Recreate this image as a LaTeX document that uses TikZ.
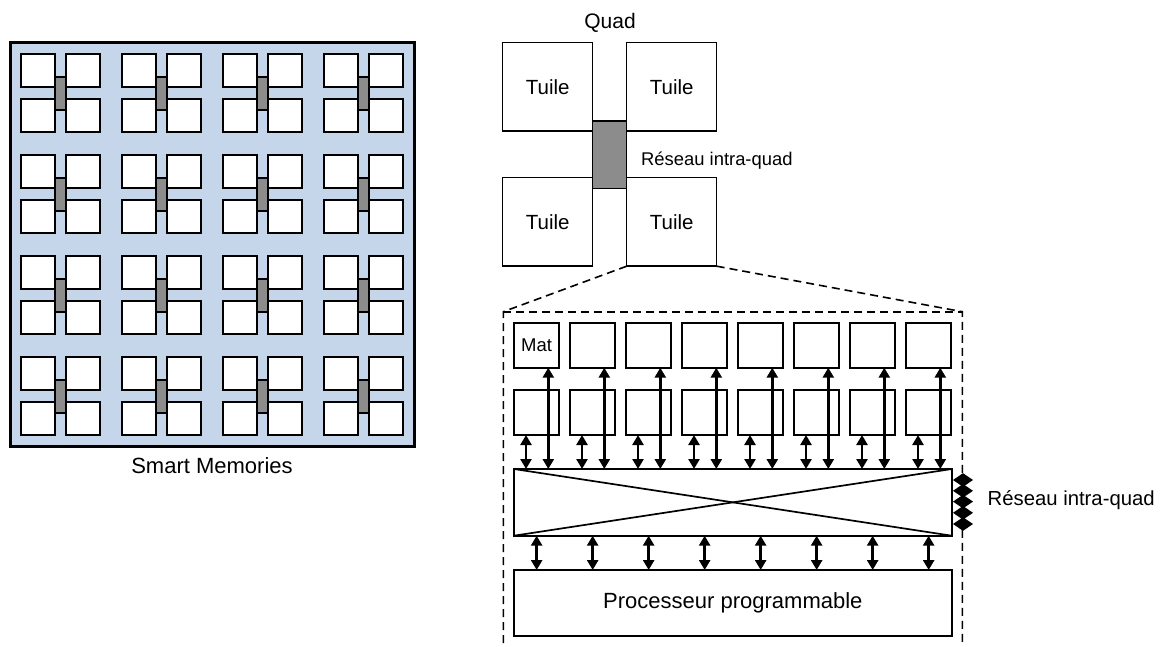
\documentclass[tikz,border=0pt]{standalone}
\usepackage{fontspec}
\setmainfont{Liberation Sans}
\usetikzlibrary{arrows.meta,calc}
\definecolor{panelblue}{RGB}{197,214,234}
\definecolor{bargray}{RGB}{140,140,140}
\begin{document}
\begin{tikzpicture}[x=1pt,y=-1pt,
  boxshape/.style={draw,line width=2pt,fill=white,inner sep=0pt,outer sep=0pt,anchor=north west},
  stile/.style={boxshape,minimum width=34pt,minimum height=33pt},
  sbar/.style={draw,line width=2pt,fill=bargray,inner sep=0pt,outer sep=0pt,anchor=north west,minimum width=11pt,minimum height=33.3pt},
  qtile/.style={boxshape,line width=1.5pt,minimum width=90pt,minimum height=88.5pt,font=\fontsize{20.5}{24}\selectfont},
  matbox/.style={boxshape,minimum width=45.3pt,minimum height=45pt},
  bigbox/.style={boxshape,minimum width=437.7pt},
  dashline/.style={line width=1.6pt,dash pattern=on 8pt off 5pt},
  dblarrow/.style={line width=2.5pt,{Triangle[length=10pt,width=11pt]}-{Triangle[length=10pt,width=11pt]}},
  lbl/.style={inner sep=0pt}
]
\useasboundingbox (0,0) rectangle (1162,646);

% ---------- Smart Memories chip ----------
\node[draw,line width=3pt,fill=panelblue,inner sep=0pt,outer sep=0pt,anchor=north west,
      minimum width=404pt,minimum height=404pt] (chip) at (10,42) {};
\foreach \i in {0,...,3}{
  \foreach \j in {0,...,3}{
    \pgfmathsetmacro\xo{21+101*\i}
    \pgfmathsetmacro\yo{54+101*\j}
    \node[stile] (s-\i-\j-a) at (\xo,\yo) {};
    \node[stile] (s-\i-\j-b) at (\xo+45,\yo) {};
    \node[stile] (s-\i-\j-c) at (\xo,\yo+45) {};
    \node[stile] (s-\i-\j-d) at (\xo+45,\yo+45) {};
    \node[sbar]  (s-\i-\j-n) at (\xo+34,\yo+22.7) {};
  }
}
\node[lbl,font=\fontsize{22}{26}\selectfont] (smlabel) at (212,466) {Smart Memories};

% ---------- Quad ----------
\node[lbl,font=\fontsize{21}{25}\selectfont] (quadlabel) at (610,23) {Quad};
\node[qtile] (qtl) at (502.7,42.7) {Tuile};
\node[qtile] (qtr) at (626.7,42.7) {Tuile};
\node[qtile] (qbl) at (502.7,177.7) {Tuile};
\node[qtile] (qbr) at (626.7,177.7) {Tuile};
\node[draw,line width=1.5pt,fill=bargray,inner sep=0pt,outer sep=0pt,anchor=north west,
      minimum width=34pt,minimum height=67.3pt] (qbar) at (592.7,121) {};
\node[lbl,anchor=west,font=\fontsize{18.4}{22}\selectfont] (qnet) at (641,161) {Réseau intra-quad};

% ---------- Tile detail ----------
\coordinate (dtl) at (503.3,311.7);
\coordinate (dtr) at (962.3,311.7);
\coordinate (dbl) at (503.3,646);
\coordinate (dbr) at (962.3,646);
\draw[dashline] (qbr.south west) -- (dtl) -- (dbl);
\draw[dashline] (qbr.south east) -- (dtr) -- (dbr);
\draw[dashline] (dtl) -- (dtr);

\foreach \k in {1,...,8}{
  \pgfmathsetmacro\bx{514+56*(\k-1)}
  \node[matbox] (m\k) at (\bx,322.7) {};
  \node[matbox] (r\k) at (\bx,390) {};
}
\node[lbl,font=\fontsize{18.5}{22}\selectfont] at (m1.center) {Mat};

\node[bigbox,minimum height=66.7pt] (cross) at (514,469) {};
\draw[line width=1.7pt] (cross.north west) -- (cross.south east);
\draw[line width=1.7pt] (cross.south west) -- (cross.north east);
\node[bigbox,minimum height=66pt,font=\fontsize{22}{26}\selectfont] (proc) at (514,570) {Processeur programmable};

\foreach \k in {1,...,8}{
  \coordinate (la\k) at ($(m\k.south west)+(34.3,0)$);
  \coordinate (sa\k) at ($(r\k.south west)+(12,0)$);
  \draw[dblarrow] (la\k) -- (la\k |- cross.north);
  \draw[dblarrow] (sa\k) -- (sa\k |- cross.north);
  \draw[dblarrow] (r\k.south |- cross.south) -- (r\k.south |- proc.north);
}

% side network ports
\foreach \y [count=\n] in {480,490.8,501.6,512.8,524}{
  \coordinate (pl\n) at (953,\y);
  \coordinate (pr\n) at (973,\y);
  \fill (pl\n) -- ($(pl\n)!0.5!(pr\n)+(0,-6.8)$) -- (pr\n) -- ($(pl\n)!0.5!(pr\n)+(0,6.8)$) -- cycle;
}
\node[lbl,anchor=west,font=\fontsize{20.3}{24}\selectfont] (snet) at (987.5,500) {Réseau intra-quad};
\end{tikzpicture}
\end{document}
